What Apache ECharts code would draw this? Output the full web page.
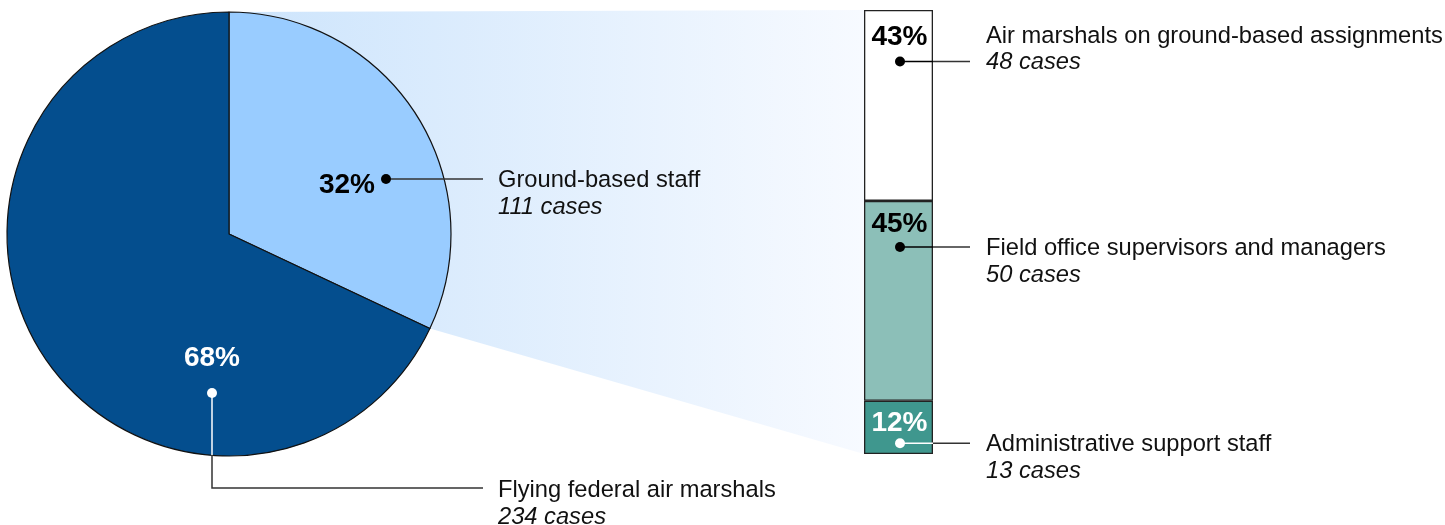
<!DOCTYPE html>
<html><head><meta charset="utf-8">
<script src="https://cdn.jsdelivr.net/npm/echarts@6/dist/echarts.min.js"></script>
<style>html,body{margin:0;padding:0;background:#fff}#c{width:1445px;height:525px}</style>
</head><body><div id="c"></div>
<script>
// ---- data ----
const pieNames = ['Ground-based staff', 'Flying federal air marshals'];
const piePercents = [32, 68];
const pieCases = [111, 234];
// bar segments listed bottom -> top
const barNames = ['Administrative support staff', 'Field office supervisors and managers', 'Air marshals on ground-based assignments'];
const barPercents = [12, 45, 43];
const barCases = [13, 50, 48];

// ---- styles / layout ----
const pieColors = ['#99CCFF', '#044E8E'];
const pieLabelColors = ['#000000', '#ffffff'];
const barColors = ['#3F978E', '#8CBFB8', '#FFFFFF'];
const barLabelColors = ['#ffffff', '#000000', '#000000'];
const barTextOffsets = [23, 23, 27.5];   // from segment top to % text centre
const barDotOffsets = [42.5, 46, 51.5];  // from segment top to dot
const FONT = "'Liberation Sans', Arial, sans-serif";
const CX = 229, CY = 234, R = 222;
const G_LEFT = 864, G_TOP = 10, G_W = 69, G_H = 444;
const LINE_COL = '#333333';
const FS = 23.7, LH = 26.5;

const chart = echarts.init(document.getElementById('c'), null, {renderer: 'canvas'});

const barSeries = barPercents.map((v, i) => ({
  type: 'bar', name: barNames[i], stack: 'total', barWidth: '100%',
  data: [v], silent: true,
  itemStyle: {color: barColors[i], borderColor: '#222', borderWidth: 1.3},
  emphasis: {disabled: true}
}));

chart.setOption({
  animation: false,
  backgroundColor: '#ffffff',
  grid: {left: G_LEFT, top: G_TOP, width: G_W, height: G_H, containLabel: false},
  xAxis: {type: 'category', data: ['all'], show: false},
  yAxis: {type: 'value', min: 0, max: 100, show: false},
  series: [
    {
      type: 'pie', center: [CX, CY], radius: R, startAngle: 90, clockwise: true,
      silent: true, label: {show: false}, labelLine: {show: false},
      emphasis: {disabled: true},
      itemStyle: {borderColor: '#111', borderWidth: 1.2},
      data: piePercents.map((v, i) => ({name: pieNames[i], value: v, itemStyle: {color: pieColors[i]}}))
    },
    ...barSeries
  ]
});

// ---- derived geometry ----
const pieSum = piePercents.reduce((a, b) => a + b, 0);
const theta = 2 * Math.PI * piePercents[0] / pieSum;
const sliceEnd = [CX + R * Math.sin(theta), CY - R * Math.cos(theta)];
const barTop = chart.convertToPixel({gridIndex: 0}, [0, 100]);
const barBot = chart.convertToPixel({gridIndex: 0}, [0, 0]);
const barCx = barTop[0];
const barLeft = barCx - G_W / 2, barRight = barCx + G_W / 2;

const g = [];
// zoom wedge
g.push({
  type: 'polygon', z: 0,
  shape: {points: [[CX, CY - R], [barLeft, barTop[1]], [barLeft, barBot[1]], sliceEnd, [CX, CY]]},
  style: {fill: {type: 'linear', x: 0, y: 0, x2: 1, y2: 0, colorStops: [
    {offset: 0, color: '#CCE4FC'}, {offset: 1, color: '#F7FAFF'}]}}
});

function textBlock(x, y, name, cases) {
  return {
    type: 'text', z: 100, x: x, y: y,
    style: {
      text: '{a|' + name + '}\n{b|' + cases + ' cases}',
      textAlign: 'left', textVerticalAlign: 'top',
      rich: {
        a: {fontFamily: FONT, fontSize: FS, lineHeight: LH, fill: '#111', color: '#111'},
        b: {fontFamily: FONT, fontSize: FS, lineHeight: LH, fontStyle: 'italic', fill: '#111', color: '#111'}
      }
    }
  };
}
function pctText(x, y, s, col, align) {
  return {type: 'text', z: 100, x: x, y: y,
    style: {text: s, fontFamily: FONT, fontSize: 28, fontWeight: 'bold', fill: col,
      textAlign: align || 'center', textVerticalAlign: 'middle'}};
}
function dot(x, y, col) {
  return {type: 'circle', z: 101, shape: {cx: x, cy: y, r: 5}, style: {fill: col}};
}
function line(x1, y1, x2, y2, col) {
  return {type: 'line', z: 99, shape: {x1: x1, y1: y1, x2: x2, y2: y2}, style: {stroke: col, lineWidth: 1.5}};
}

// pie labels
const LEAD_END = 483, TEXT_X = 498;
// ground-based slice
{
  const d = [CX + 157, CY - 55];
  g.push(pctText(d[0] - 11, d[1] + 6, piePercents[0] + '%', pieLabelColors[0], 'right'));
  g.push(dot(d[0], d[1], pieLabelColors[0]));
  g.push(line(d[0], d[1], LEAD_END, d[1], LINE_COL));
  g.push(textBlock(TEXT_X, d[1] - LH / 2 + 1.5, pieNames[0], pieCases[0]));
}
// flying slice
{
  const d = [CX - 17, CY + 159];
  const edgeY = CY + Math.sqrt(R * R - (d[0] - CX) * (d[0] - CX));
  const lowY = 488;
  g.push(pctText(d[0], d[1] - 35, piePercents[1] + '%', pieLabelColors[1]));
  g.push(dot(d[0], d[1], pieLabelColors[1]));
  g.push(line(d[0], d[1], d[0], edgeY, '#ffffff'));
  g.push({type: 'polyline', z: 99, shape: {points: [[d[0], edgeY], [d[0], lowY], [LEAD_END, lowY]]},
    style: {stroke: LINE_COL, lineWidth: 1.5, fill: null}});
  g.push(textBlock(TEXT_X, lowY - LH / 2 + 2.5, pieNames[1], pieCases[1]));
}

// bar labels
const BAR_LEAD_END = 970, BAR_TEXT_X = 986;
let cum = 0;
barPercents.forEach((v, i) => {
  const segTop = chart.convertToPixel({gridIndex: 0}, [0, cum + v])[1];
  cum += v;
  const ty = segTop + barTextOffsets[i], dy = segTop + barDotOffsets[i];
  const col = barLabelColors[i];
  g.push(pctText(barCx + 1, ty, v + '%', col));
  g.push(dot(barCx + 1.5, dy, col));
  g.push(line(barCx + 1.5, dy, barRight, dy, col));
  g.push(line(barRight, dy, BAR_LEAD_END, dy, LINE_COL));
  // the top label has its case count on the leader line; others have the name on it
  const blockTop = (i === barPercents.length - 1) ? dy - LH / 2 - LH + 1 : dy - LH / 2 + 1.5;
  g.push(textBlock(BAR_TEXT_X, blockTop, barNames[i], barCases[i]));
});

chart.setOption({graphic: {elements: g}});
</script></body></html>
